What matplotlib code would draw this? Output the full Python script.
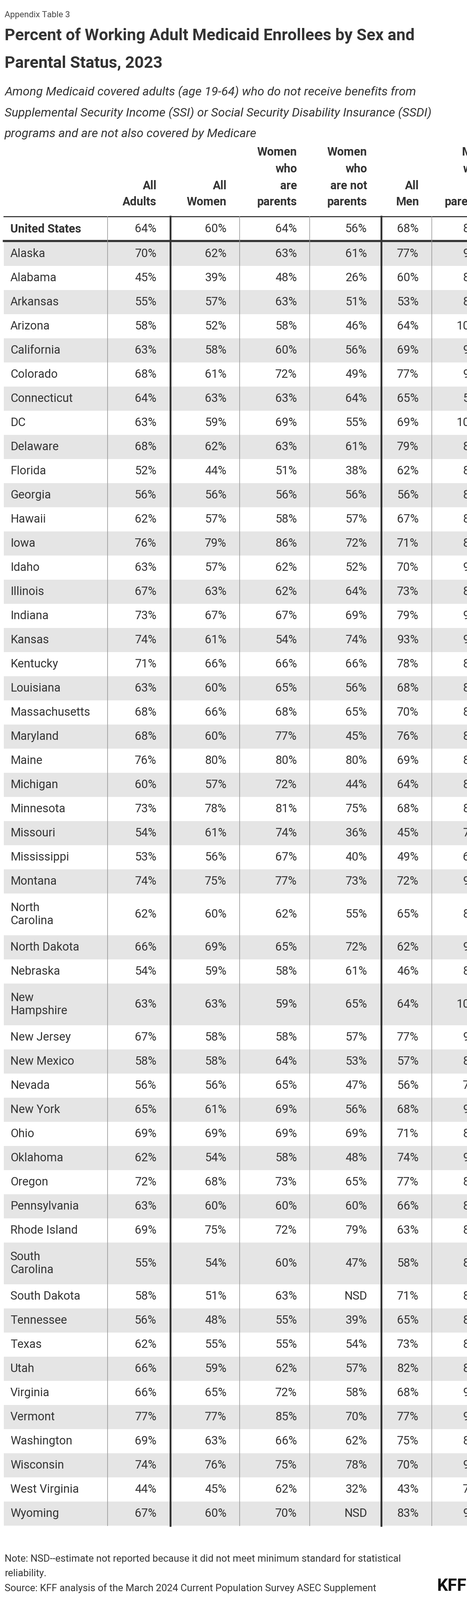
import matplotlib
matplotlib.use("Agg")
import matplotlib.pyplot as plt
from matplotlib.patches import Rectangle

# data
states = ["Alaska", "Alabama", "Arkansas", "Arizona", "California", "Colorado", "Connecticut", "DC",
          "Delaware", "Florida", "Georgia", "Hawaii", "Iowa", "Idaho", "Illinois", "Indiana", "Kansas",
          "Kentucky", "Louisiana", "Massachusetts", "Maryland", "Maine", "Michigan", "Minnesota",
          "Missouri", "Mississippi", "Montana", "North\nCarolina", "North Dakota", "Nebraska",
          "New\nHampshire", "New Jersey", "New Mexico", "Nevada", "New York", "Ohio", "Oklahoma",
          "Oregon", "Pennsylvania", "Rhode Island", "South\nCarolina", "South Dakota", "Tennessee",
          "Texas", "Utah", "Virginia", "Vermont", "Washington", "Wisconsin", "West Virginia", "Wyoming"]
all_adults = [70, 45, 55, 58, 63, 68, 64, 63, 68, 52, 56, 62, 76, 63, 67, 73, 74, 71, 63, 68, 68, 76, 60, 73,
              54, 53, 74, 62, 66, 54, 63, 67, 58, 56, 65, 69, 62, 72, 63, 69, 55, 58, 56, 62, 66, 66, 77, 69,
              74, 44, 67]
all_women = [62, 39, 57, 52, 58, 61, 63, 59, 62, 44, 56, 57, 79, 57, 63, 67, 61, 66, 60, 66, 60, 80, 57, 78,
             61, 56, 75, 60, 69, 59, 63, 58, 58, 56, 61, 69, 54, 68, 60, 75, 54, 51, 48, 55, 59, 65, 77, 63,
             76, 45, 60]
women_parents = [63, 48, 63, 58, 60, 72, 63, 69, 63, 51, 56, 58, 86, 62, 62, 67, 54, 66, 65, 68, 77, 80, 72,
                 81, 74, 67, 77, 62, 65, 58, 59, 58, 64, 65, 69, 69, 58, 73, 60, 72, 60, 63, 55, 55, 62, 72,
                 85, 66, 75, 62, 70]
women_not_parents = [61, 26, 51, 46, 56, 49, 64, 55, 61, 38, 56, 57, 72, 52, 64, 69, 74, 66, 56, 65, 45, 80,
                     44, 75, 36, 40, 73, 55, 72, 61, 65, 57, 53, 47, 56, 69, 48, 65, 60, 79, 47, None, 39, 54,
                     57, 58, 70, 62, 78, 32, None]
all_men = [77, 60, 53, 64, 69, 77, 65, 69, 79, 62, 56, 67, 71, 70, 73, 79, 93, 78, 68, 70, 76, 69, 64, 68, 45,
           49, 72, 65, 62, 46, 64, 77, 57, 56, 68, 71, 74, 77, 66, 63, 58, 71, 65, 73, 82, 68, 77, 75, 70, 43, 83]
men_parents = [92, 85, 82, 100, 94, 91, 58, 100, 87, 84, 83, 85, 81, 93, 84, 95, 96, 88, 84, 82, 86, 83, 87,
               80, 74, 66, 90, 84, 91, 86, 100, 93, 84, 75, 91, 86, 92, 88, 83, 85, 82, 86, 84, 86, 89, 92,
               94, 85, 93, 73, 95]
us_values = [64, 60, 64, 56, 68, 86]

columns = ["All\nAdults", "All\nWomen", "Women\nwho\nare\nparents", "Women\nwho\nare not\nparents",
           "All\nMen", "Men\nwho\nare\nparents"]

W, H = 1220, 4176
fig = plt.figure(figsize=(W / 100, H / 100), dpi=100)
ax = fig.add_axes([0, 0, 1, 1])
ax.set_xlim(0, W)
ax.set_ylim(H, 0)
ax.axis("off")

TXT = "#333333"
plt.rcParams["font.family"] = ["Roboto", "DejaVu Sans"]

ax.text(12, 40, "Appendix Table 3", fontsize=16, color="#444444", va="center")
ax.text(12, 93, "Percent of Working Adult Medicaid Enrollees by Sex and", fontsize=30.5, weight="bold",
        color=TXT, va="center")
ax.text(12, 165, "Parental Status, 2023", fontsize=30.5, weight="bold", color=TXT, va="center")
sub = ["Among Medicaid covered adults (age 19-64) who do not receive benefits from",
       "Supplemental Security Income (SSI) or Social Security Disability Insurance (SSDI)",
       "programs and are not also covered by Medicare"]
for i, s in enumerate(sub):
    ax.text(12, 240 + i * 55, s, fontsize=23, style="italic", color=TXT, va="center")

# last column runs off the right edge, as in the original
col_right = [409, 592, 776, 959, 1094, 1266]
vlines = [(281, 1.2, "#999999"), (445, 3.5, "#333333"), (626, 1.2, "#999999"), (809, 1.2, "#999999"),
          (996, 3.5, "#333333"), (1128, 1.2, "#999999")]
header_y = [397, 441, 485, 527]

for x, lab in zip(col_right, columns):
    lines = lab.split("\n")
    for j, ln in enumerate(lines):
        ax.text(x, header_y[4 - len(lines) + j], ln, ha="right", va="center", fontsize=22,
                weight="bold", color=TXT)

ax.plot([10, W], [565, 565], color="#333333", lw=2)

def fmt(v):
    return "NSD" if v is None else f"{v}%"

# US row
us_y = 598
ax.text(27, us_y, "United States", fontsize=22, weight="bold", color=TXT, va="center")
for x, v in zip(col_right, us_values):
    ax.text(x, us_y, fmt(v), ha="right", va="center", fontsize=22, color=TXT)
ax.plot([10, W], [629, 629], color="#333333", lw=4)

# state rows
y = 631
h_single, h_double = 63.0, 109
cols = [all_adults, all_women, women_parents, women_not_parents, all_men, men_parents]
for i, st in enumerate(states):
    rh = h_double if "\n" in st else h_single
    if i % 2 == 0:
        ax.add_patch(Rectangle((10, y), W - 10, rh, color="#e5e5e5", lw=0, zorder=0))
    cy = y + rh / 2
    ax.text(27, cy, st, fontsize=22, color=TXT, va="center", linespacing=1.25)
    for x, col in zip(col_right, cols):
        ax.text(x, cy, fmt(col[i]), ha="right", va="center", fontsize=22, color=TXT)
    y += rh

for x, lw, c in vlines:
    ax.plot([x, x], [565, y], color=c, lw=lw)

ax.text(12, 4069, "Note: NSD--estimate not reported because it did not meet minimum standard for statistical",
        fontsize=18.5, color=TXT, va="center")
ax.text(12, 4107, "reliability.", fontsize=18.5, color=TXT, va="center")
ax.text(12, 4146, "Source: KFF analysis of the March 2024 Current Population Survey ASEC Supplement",
        fontsize=18.5, color=TXT, va="center")
ax.text(1218, 4140, "KFF", fontsize=32, weight="bold", color="#111111", ha="right", va="center")

fig.savefig("out.png", dpi=100, facecolor="white")
